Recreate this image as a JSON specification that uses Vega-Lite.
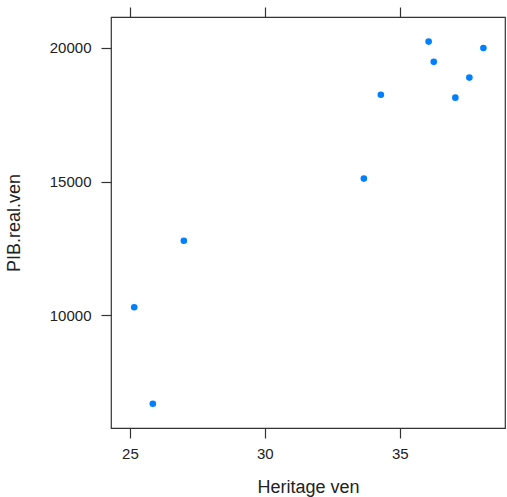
{
  "$schema": "https://vega.github.io/schema/vega-lite/v6.json",
  "width": 394,
  "height": 411,
  "autosize": {"type": "none"},
  "padding": {"left": 111, "top": 17, "right": 2, "bottom": 69},
  "background": "white",
  "config": {
    "view": {"stroke": "#333333", "strokeWidth": 1.2},
    "font": "Liberation Sans",
    "axis": {
      "grid": false,
      "domain": false,
      "tickColor": "#333333",
      "tickWidth": 1.2,
      "tickSize": 10,
      "labelFont": "Liberation Sans",
      "labelFontSize": 15,
      "labelColor": "#222222",
      "titleFont": "Liberation Sans",
      "titleFontSize": 18,
      "titleFontWeight": "normal",
      "titleColor": "#222222"
    }
  },
  "data": {
    "values": [
      {"heritage": 25.16, "pib": 10290},
      {"heritage": 25.85, "pib": 6680},
      {"heritage": 27.0, "pib": 12780},
      {"heritage": 33.67, "pib": 15110},
      {"heritage": 34.3, "pib": 18250},
      {"heritage": 36.07, "pib": 20240},
      {"heritage": 36.26, "pib": 19480},
      {"heritage": 37.06, "pib": 18140},
      {"heritage": 37.58, "pib": 18890},
      {"heritage": 38.1, "pib": 20000}
    ]
  },
  "layer": [
    {
      "mark": {"type": "point", "filled": true, "opacity": 1, "color": "#0080ff", "size": 44},
      "encoding": {
        "x": {
          "field": "heritage",
          "type": "quantitative",
          "scale": {"domain": [24.3, 38.9], "nice": false, "zero": false},
          "axis": {
            "title": "Heritage ven",
            "values": [25, 30, 35],
            "format": "d",
            "labelPadding": 8,
            "titleY": 59,
            "titleBaseline": "middle"
          }
        },
        "y": {
          "field": "pib",
          "type": "quantitative",
          "scale": {"domain": [5770, 21160], "nice": false, "zero": false},
          "axis": {
            "title": "PIB.real.ven",
            "values": [10000, 15000, 20000],
            "format": "d",
            "labelPadding": 10,
            "titleX": -97,
            "titleY": 205.5,
            "titleAngle": -90,
            "titleBaseline": "middle",
            "titleAlign": "center"
          }
        }
      }
    },
    {
      "mark": {"type": "point", "opacity": 0},
      "encoding": {
        "x": {
          "field": "heritage",
          "type": "quantitative",
          "axis": {
            "orient": "top",
            "values": [25, 30, 35],
            "labels": false,
            "title": null
          }
        }
      }
    }
  ],
  "resolve": {"axis": {"x": "independent"}}
}
